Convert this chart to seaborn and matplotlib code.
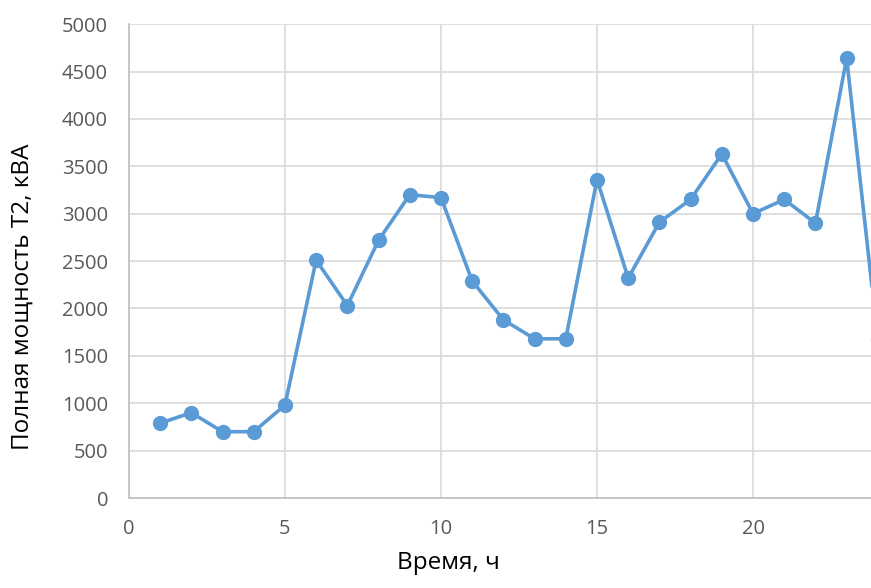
import matplotlib
matplotlib.use("Agg")
import matplotlib.pyplot as plt
import seaborn as sns
import pandas as pd

hours = list(range(1, 25))
power_kva = [790, 900, 700, 700, 980, 2510, 2030, 2720, 3200, 3170, 2290, 1880,
             1680, 1680, 3360, 2320, 2910, 3150, 3630, 3000, 3150, 2900, 4640, 1670]
x_ticks = [0, 5, 10, 15, 20]
y_ticks = [0, 500, 1000, 1500, 2000, 2500, 3000, 3500, 4000, 4500, 5000]

df = pd.DataFrame({"hour": hours, "power": power_kva})

sns.set_theme(style="whitegrid")
plt.rcParams["font.family"] = ["Open Sans", "DejaVu Sans"]

fig = plt.figure(figsize=(8.71, 5.88), dpi=100)
ax = fig.add_axes([0.148, 0.153, 0.852, 0.806])

sns.lineplot(data=df, x="hour", y="power", ax=ax, color="#5B9BD5",
             linewidth=2.6, marker="o", markersize=11, markeredgewidth=0)
for line in ax.lines:
    line.set_clip_on(False)

ax.set_xlim(0, 23.78)
ax.set_ylim(0, 5000)
ax.set_xticks(x_ticks)
ax.set_yticks(y_ticks)
ax.grid(True, color="#d9d9d9", linewidth=1.2)
ax.set_facecolor("white")
for side in ["top", "right"]:
    ax.spines[side].set_visible(False)
for side in ["left", "bottom"]:
    ax.spines[side].set_color("#bfbfbf")
    ax.spines[side].set_linewidth(1.2)
ax.tick_params(axis="both", colors="#595959", labelsize=14.5, length=0)
ax.tick_params(axis="y", pad=15)
ax.tick_params(axis="x", pad=15)

ax.set_xlabel("Время, ч", fontsize=17.5, color="black")
ax.set_ylabel("Полная мощность Т2, кВА", fontsize=17.5, color="black")
ax.xaxis.set_label_coords(0.431, -0.138)
ax.yaxis.set_label_coords(-0.1435, 0.424)
ax.yaxis.label.set_va("center")
ax.xaxis.label.set_va("center")

fig.savefig("out.png", dpi=100)
